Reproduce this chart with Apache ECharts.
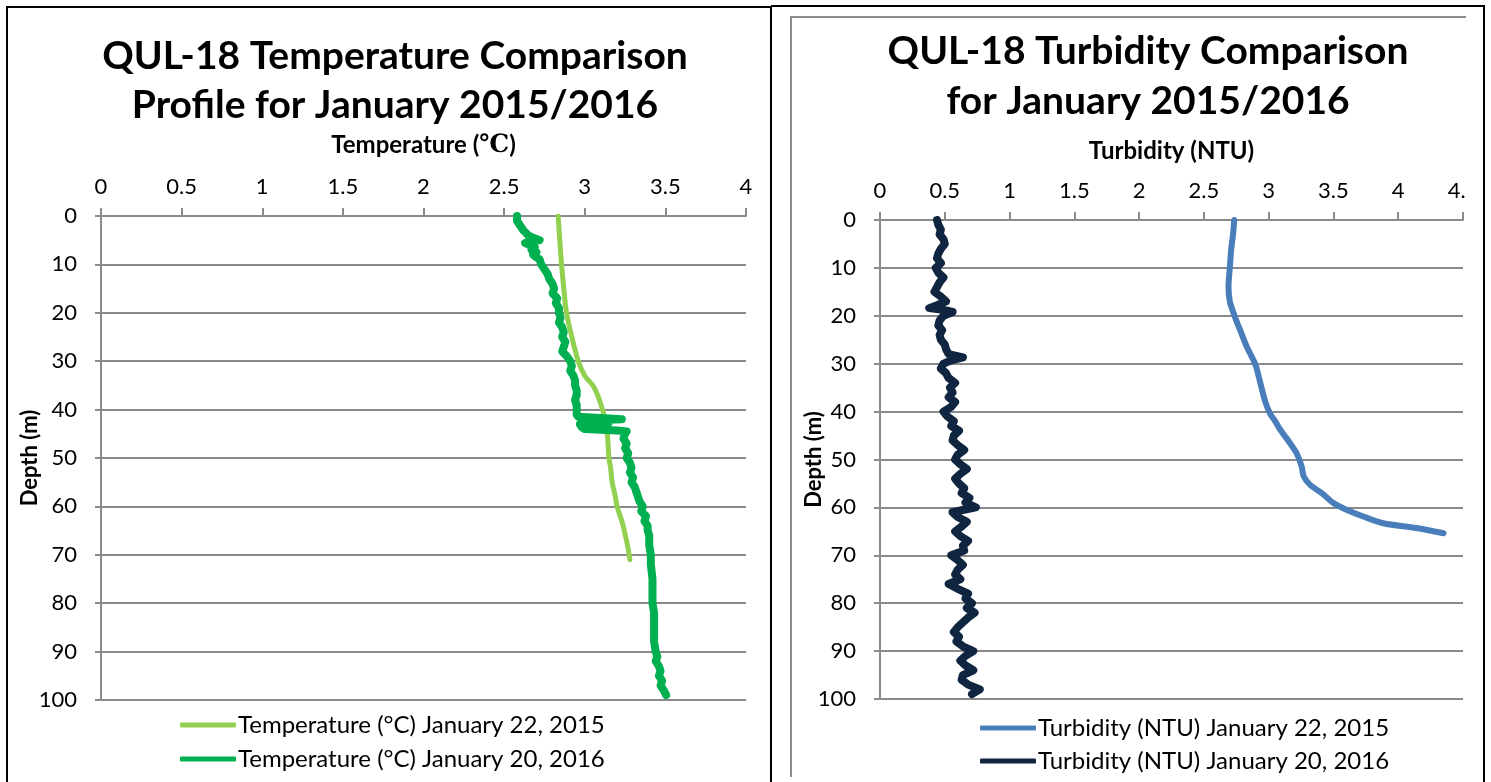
<!DOCTYPE html>
<html>
<head>
<meta charset="utf-8">
<script src="https://cdn.jsdelivr.net/npm/echarts@6/dist/echarts.min.js"></script>
<style>
html,body{margin:0;padding:0;background:#fff;}
#chart{width:1491px;height:782px;}
</style>
</head>
<body>
<div id="chart"></div>
<script>
// ---------- Data ----------
var xTicksTemp = [0, 0.5, 1, 1.5, 2, 2.5, 3, 3.5, 4];
var xTicksTurb = [0, 0.5, 1, 1.5, 2, 2.5, 3, 3.5, 4, 4.5];
var depthTicks = [0, 10, 20, 30, 40, 50, 60, 70, 80, 90, 100];

var seriesNames = [
  'Temperature (°C) January 22, 2015',
  'Temperature (°C) January 20, 2016',
  'Turbidity (NTU) January 22, 2015',
  'Turbidity (NTU) January 20, 2016'
];

// Temperature 2015
var tempDepth2015 = [0, 5, 10, 15, 20, 25, 30, 33, 35, 37, 40, 42, 45, 50, 52, 55, 58, 60, 63, 65, 68, 71];
var temp2015 = [2.835, 2.845, 2.856, 2.87, 2.887, 2.92, 2.96, 3.0, 3.05, 3.08, 3.11, 3.125, 3.14, 3.15, 3.16, 3.17, 3.19, 3.2, 3.23, 3.245, 3.265, 3.28];

// Temperature 2016
var tempDepth2016 = [0, 1, 2, 3, 4, 4.5, 5, 5.3, 5.6, 6, 6.5, 7, 7.5, 8, 9, 10, 11, 12, 13, 14, 15, 16, 17, 18, 19, 20,
  21, 22, 23, 24, 25, 26, 27, 28, 29, 30, 31, 32, 33, 34, 35, 36, 37, 38, 39, 40, 41, 41.5, 42, 42.3, 42.6, 43, 43.3, 43.6,
  44, 44.3, 44.5, 45, 46, 47, 48, 49, 50, 51, 52, 53, 54, 55, 56, 57, 58, 59, 60, 61, 62, 63, 64, 65, 66, 68, 70, 72, 75,
  78, 80, 82, 85, 88, 90, 91, 92, 93, 94, 95, 96, 97, 98, 99];
var temp2016 = [2.58, 2.58, 2.60, 2.62, 2.65, 2.68, 2.72, 2.66, 2.63, 2.66, 2.69, 2.67, 2.70, 2.68, 2.72, 2.73, 2.75, 2.77, 2.78, 2.80, 2.81, 2.80, 2.83, 2.82, 2.84, 2.84,
  2.85, 2.84, 2.86, 2.87, 2.86, 2.88, 2.87, 2.86, 2.89, 2.91, 2.92, 2.91, 2.93, 2.94, 2.94, 2.95, 2.95, 2.94, 2.95, 2.95, 2.95, 2.96, 3.23, 2.98, 3.15, 2.97, 3.14, 2.98,
  3.0, 3.2, 3.26, 3.25, 3.24, 3.26, 3.25, 3.27, 3.26, 3.28, 3.29, 3.28, 3.30, 3.29, 3.31, 3.32, 3.33, 3.34, 3.36, 3.35, 3.38, 3.37, 3.39, 3.39, 3.40, 3.40, 3.41, 3.41, 3.42,
  3.42, 3.42, 3.43, 3.43, 3.43, 3.44, 3.45, 3.44, 3.46, 3.47, 3.46, 3.48, 3.47, 3.49, 3.505];

// Turbidity 2015
var turbDepth2015 = [0, 3, 6.3, 10, 13.9, 17, 19.5, 21, 23, 26.4, 30, 33.4, 37.6, 40.4, 42, 43.8, 46.6, 48.7, 51.5, 53.5, 55.3, 57, 59.1, 60.5, 61.9, 63.3, 64.3, 65.4];
var turb2015 = [2.734, 2.725, 2.71, 2.70, 2.69, 2.70, 2.73, 2.75, 2.78, 2.83, 2.895, 2.93, 2.97, 3.01, 3.05, 3.09, 3.165, 3.216, 3.255, 3.27, 3.32, 3.41, 3.50, 3.60, 3.73, 3.885, 4.14, 4.35];

// Turbidity 2016
var turbDepth2016 = [0, 1, 2, 3, 4, 5, 6, 7, 8, 9, 10, 11, 12, 13, 14, 15, 16, 17, 17.8, 18.4, 18.8, 19.2, 20,
  21, 22, 23, 24, 25, 26, 27, 28, 28.7, 29.3, 30, 31, 32, 33, 34, 35, 36, 37, 38, 39, 40,
  41, 42, 43, 44, 45, 46, 47, 48, 49, 50, 51, 52, 53, 54, 55, 56, 57, 58, 59, 60, 60.6, 61, 62, 63, 64, 65,
  66, 67, 68, 69, 70, 71, 72, 73, 74, 75, 76, 77, 78, 79, 80, 81, 82, 83, 84, 85, 86, 87, 88, 89, 90,
  91, 92, 93, 94, 95, 96, 97, 98, 99];
var turb2016 = [0.44, 0.45, 0.47, 0.46, 0.49, 0.50, 0.47, 0.45, 0.44, 0.47, 0.43, 0.45, 0.49, 0.46, 0.44, 0.42, 0.47, 0.51, 0.44, 0.38, 0.50, 0.56, 0.49,
  0.46, 0.45, 0.48, 0.46, 0.47, 0.50, 0.51, 0.53, 0.64, 0.55, 0.49, 0.47, 0.51, 0.53, 0.58, 0.54, 0.56, 0.53, 0.58, 0.55, 0.49,
  0.52, 0.57, 0.55, 0.61, 0.57, 0.56, 0.60, 0.65, 0.60, 0.58, 0.62, 0.67, 0.62, 0.58, 0.61, 0.65, 0.63, 0.69, 0.66, 0.74, 0.63, 0.56, 0.60, 0.67, 0.63, 0.58,
  0.62, 0.68, 0.64, 0.65, 0.55, 0.60, 0.64, 0.60, 0.58, 0.62, 0.53, 0.60, 0.68, 0.66, 0.71, 0.67, 0.73, 0.68, 0.64, 0.60, 0.57, 0.61, 0.59, 0.64, 0.72,
  0.66, 0.62, 0.66, 0.72, 0.64, 0.63, 0.68, 0.77, 0.71];

function pairs(vals, depths) {
  return vals.map(function (v, i) { return [v, depths[i]]; });
}

// ---------- Chart ----------
var FONT = 'Lato, "Open Sans", sans-serif';
var GRID_COLOR = '#8a8a8a';
var chart = echarts.init(document.getElementById('chart'), null, {renderer: 'canvas'});

function xAxisCfg(idx, max, nameRich, nameGap) {
  return {
    type: 'value', gridIndex: idx, position: 'top', min: 0, max: max, interval: 0.5,
    name: nameRich, nameLocation: 'middle', nameGap: nameGap,
    nameTextStyle: {
      fontFamily: FONT, fontWeight: 'bold', fontSize: 24, color: '#000',
      rich: {
        a: {fontFamily: FONT, fontWeight: 'bold', fontSize: 24, color: '#000'},
        s: {fontFamily: '"Liberation Serif", "DejaVu Serif", serif', fontSize: 25, color: '#000'}
      }
    },
    axisLine: {show: true, lineStyle: {color: GRID_COLOR, width: 2}},
    axisTick: {show: true, length: 8, lineStyle: {color: GRID_COLOR, width: 2}},
    axisLabel: {fontFamily: FONT, fontSize: 22, color: '#000', margin: 18},
    splitLine: {show: false}
  };
}
function yAxisCfg(idx, nameGap) {
  return {
    type: 'value', gridIndex: idx, inverse: true, min: 0, max: 100, interval: 10,
    name: 'Depth (m)', nameLocation: 'middle', nameGap: nameGap, nameRotate: 90,
    nameMoveOverlap: false,
    nameTextStyle: {fontFamily: FONT, fontWeight: 'bold', fontSize: 22, color: '#000'},
    axisLine: {show: true, lineStyle: {color: GRID_COLOR, width: 2}},
    axisTick: {show: true, length: 6, lineStyle: {color: GRID_COLOR, width: 2}},
    axisLabel: {fontFamily: FONT, fontSize: 22, color: '#000', margin: 24},
    splitLine: {show: true, lineStyle: {color: GRID_COLOR, width: 2}}
  };
}

var option = {
  backgroundColor: '#fff',
  animation: false,
  title: [
    {
      text: 'QUL-18 Temperature Comparison\nProfile for January 2015/2016',
      left: 390, top: 27, textAlign: 'center',
      textStyle: {fontFamily: FONT, fontWeight: 'bold', fontSize: 39, lineHeight: 49, color: '#000'}
    },
    {
      text: 'QUL-18 Turbidity Comparison\nfor January 2015/2016',
      left: 1143, top: 21, textAlign: 'center',
      textStyle: {fontFamily: FONT, fontWeight: 'bold', fontSize: 39, lineHeight: 50, color: '#000'}
    }
  ],
  legend: [
    {
      data: [seriesNames[0], seriesNames[1]],
      orient: 'vertical', left: 180, top: 712, itemGap: 8, padding: 0,
      itemWidth: 56, itemHeight: 5, icon: 'roundRect',
      textStyle: {fontFamily: FONT, fontSize: 24, color: '#000', lineHeight: 26, padding: [0, 0, 0, -3]}
    },
    {
      data: [seriesNames[2], seriesNames[3]],
      orient: 'vertical', left: 980, top: 715, itemGap: 7, padding: 0,
      itemWidth: 56, itemHeight: 5, icon: 'roundRect',
      textStyle: {fontFamily: FONT, fontSize: 24, color: '#000', lineHeight: 26, padding: [0, 0, 0, -3]}
    }
  ],
  grid: [
    {left: 101, right: 745, top: 216, bottom: 82},
    {left: 880, right: 28, top: 220, bottom: 83}
  ],
  xAxis: [
    xAxisCfg(0, 4, '{a|Temperature (}{s|℃}{a|)}', 58),
    xAxisCfg(1, 4.5, 'Turbidity (NTU)', 57)
  ],
  yAxis: [
    yAxisCfg(0, 60),
    yAxisCfg(1, 55)
  ],
  series: [
    {
      name: seriesNames[0], type: 'line', xAxisIndex: 0, yAxisIndex: 0,
      data: pairs(temp2015, tempDepth2015), showSymbol: false, smooth: 0.3,
      lineStyle: {color: '#92D050', width: 5, cap: 'round', join: 'round'},
      itemStyle: {color: '#92D050'}, z: 3
    },
    {
      name: seriesNames[1], type: 'line', xAxisIndex: 0, yAxisIndex: 0,
      data: pairs(temp2016, tempDepth2016), showSymbol: false,
      lineStyle: {color: '#00B050', width: 8, cap: 'round', join: 'round'},
      itemStyle: {color: '#00B050'}, z: 4
    },
    {
      name: seriesNames[2], type: 'line', xAxisIndex: 1, yAxisIndex: 1,
      data: pairs(turb2015, turbDepth2015), showSymbol: false, smooth: 0.3,
      lineStyle: {color: '#4A7EBB', width: 6, cap: 'round', join: 'round'},
      itemStyle: {color: '#4A7EBB'}, z: 3
    },
    {
      name: seriesNames[3], type: 'line', xAxisIndex: 1, yAxisIndex: 1,
      data: pairs(turb2016, turbDepth2016), showSymbol: false,
      lineStyle: {color: '#10253F', width: 8, cap: 'round', join: 'round'},
      itemStyle: {color: '#10253F'}, z: 4
    }
  ],
  graphic: [
    {type: 'rect', z: 100, shape: {x: 1467, y: 165, width: 15, height: 40}, style: {fill: '#fff'}},
    {type: 'polyline', z: 101, shape: {points: [[7, 782], [7, 7], [771, 7]]}, style: {stroke: '#000', lineWidth: 2, fill: null}},
    {type: 'line', z: 101, shape: {x1: 771, y1: 6, x2: 771, y2: 782}, style: {stroke: '#000', lineWidth: 2}},
    {type: 'polyline', z: 101, shape: {points: [[771, 6], [1484, 6], [1484, 782]]}, style: {stroke: '#000', lineWidth: 2, fill: null}},
    {type: 'polyline', z: 101, shape: {points: [[791, 777], [791, 17], [1466, 17]]}, style: {stroke: '#8c8c8c', lineWidth: 2, fill: null}}
  ]
};
chart.setOption(option);
</script>
</body>
</html>
